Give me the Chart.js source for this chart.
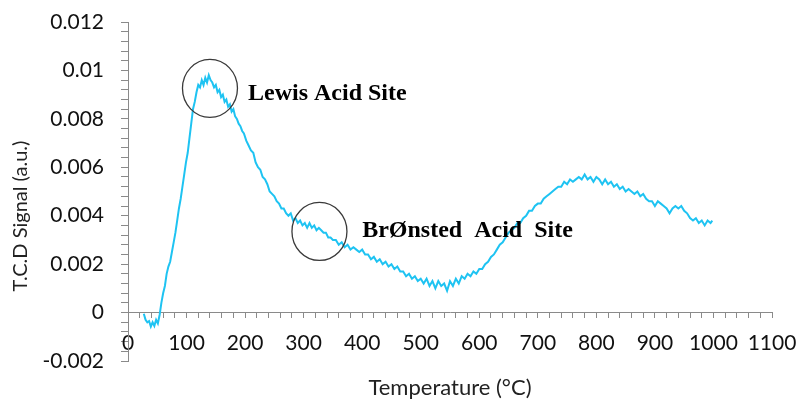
<!DOCTYPE html>
<html>
<head>
<meta charset="utf-8">
<script src="https://cdn.jsdelivr.net/npm/chart.js@4/dist/chart.umd.min.js"></script>
<style>
html,body{margin:0;padding:0;background:#fff;}
#wrap{width:799px;height:400px;position:relative;}
</style>
</head>
<body>
<div id="wrap"><canvas id="c" width="799" height="400"></canvas></div>
<script>
const temperatures = [27,30,33,36,39,42,45,48,51,54,57,60,63,66,69,72,75,78,81,84,87,90,93,96,99,102,105,108,111,114,117,120,123,126,129,132,135,138,141,144,147,150,153,156,159,162,165,168,171,174,177,180,183,186,189,192,195,198,202,206,210,214,218,222,226,230,234,238,242,246,250,254,258,262,266,270,274,278,282,286,290,294,298,302,306,310,314,318,322,326,330,334,338,342,346,350,355,360,365,370,375,380,385,390,395,400,405,410,415,420,425,430,435,440,445,450,455,460,465,470,475,480,485,490,495,500,505,510,515,520,525,530,535,540,545,550,555,560,565,570,575,580,585,590,595,600,605,610,615,620,625,630,635,640,645,650,655,660,665,670,675,680,685,690,695,700,705,710,715,720,725,730,735,740,745,750,755,760,765,770,775,780,785,790,795,800,805,810,815,820,825,830,835,840,845,850,855,860,865,870,875,880,885,890,895,900,905,910,915,920,925,930,935,940,945,950,955,960,965,970,975,980,985,990,995,998];
const tcdSignal = [-0.00005,-0.0003,-0.0004,-0.00035,-0.00058,-0.0004,-0.00055,-0.0003,-0.00045,-0.0001,0.0004,0.0008,0.0011,0.0016,0.0019,0.0021,0.0025,0.0029,0.0033,0.0038,0.0043,0.0047,0.0052,0.0057,0.0062,0.0066,0.0072,0.0078,0.0084,0.0087,0.0091,0.0094,0.0093,0.0096,0.0094,0.0097,0.0095,0.0098,0.0096,0.0095,0.0093,0.0094,0.0091,0.0092,0.0089,0.0090,0.0087,0.0088,0.0085,0.0086,0.0083,0.0084,0.0081,0.0080,0.0078,0.0077,0.0075,0.0074,0.0071,0.0069,0.0067,0.0066,0.0062,0.0060,0.0059,0.0056,0.0055,0.0053,0.0050,0.0049,0.0048,0.0046,0.0045,0.0043,0.0043,0.0041,0.0040,0.0041,0.0038,0.0039,0.0037,0.0038,0.0036,0.0037,0.0035,0.0037,0.0035,0.0036,0.0034,0.0035,0.0034,0.0033,0.0033,0.0031,0.0031,0.0030,0.0030,0.0028,0.0029,0.0027,0.0028,0.0026,0.0027,0.0026,0.0025,0.0026,0.0024,0.0024,0.0022,0.0023,0.0021,0.0022,0.0020,0.0021,0.0019,0.0020,0.0018,0.0019,0.0017,0.0017,0.0015,0.0016,0.0014,0.0015,0.0013,0.0014,0.0012,0.0014,0.0011,0.0013,0.0010,0.0013,0.0011,0.0012,0.0009,0.0013,0.0011,0.0014,0.0012,0.0015,0.0014,0.0016,0.0015,0.0017,0.0016,0.0018,0.0018,0.0020,0.0021,0.0023,0.0024,0.0026,0.0028,0.0029,0.0031,0.0033,0.0034,0.0035,0.0037,0.0037,0.0039,0.0040,0.0042,0.0042,0.0044,0.0045,0.0045,0.0047,0.0048,0.0049,0.0050,0.0051,0.0052,0.0052,0.0054,0.0053,0.0055,0.0054,0.0055,0.0056,0.0055,0.0057,0.0055,0.0056,0.0054,0.0056,0.0055,0.0053,0.0055,0.0053,0.0054,0.0052,0.0053,0.0051,0.0052,0.0050,0.0051,0.0050,0.0049,0.0050,0.0048,0.0049,0.0047,0.0046,0.0046,0.0044,0.0046,0.0045,0.0044,0.0043,0.0041,0.0043,0.0044,0.0043,0.0044,0.0042,0.0041,0.0039,0.0038,0.0039,0.0037,0.0038,0.0036,0.0038,0.0037,0.0038];
const xTickLabels = [0,100,200,300,400,500,600,700,800,900,1000,1100];
const yTickLabels = [-0.002,0,0.002,0.004,0.006,0.008,0.01,0.012];
const annotationLabels = ['Lewis Acid Site', 'BrØnsted  Acid  Site'];
const annotationAnchors = [[140, 0.00926, 205, 0.00905], [327, 0.00335, 400, 0.00339]];
const yTitle = 'T.C.D Signal (a.u.)';

const AX = '#8a8a8a';
const FONT = 'Lato, "Open Sans", sans-serif';

const annotPlugin = {
  id: 'annot',
  afterDatasetsDraw(chart) {
    const ctx = chart.ctx, xs = chart.scales.x, ys = chart.scales.y;
    ctx.save();
    annotationAnchors.forEach((a, i) => {
      const cx = xs.getPixelForValue(a[0]), cy = ys.getPixelForValue(a[1]);
      ctx.beginPath();
      ctx.ellipse(cx, cy, 27.5, 29, 0, 0, Math.PI * 2);
      ctx.strokeStyle = '#3a3a3a';
      ctx.lineWidth = 1.3;
      ctx.stroke();
      ctx.fillStyle = '#000';
      ctx.font = 'bold 24px "Liberation Serif", "Times New Roman", serif';
      ctx.textAlign = 'left';
      ctx.textBaseline = 'middle';
      ctx.fillText(annotationLabels[i], xs.getPixelForValue(a[2]), ys.getPixelForValue(a[3]));
    });
    // y axis title
    ctx.translate(21, chart.chartArea.top + 194);
    ctx.rotate(-Math.PI / 2);
    ctx.font = '20px ' + FONT;
    ctx.fillStyle = '#222';
    ctx.textAlign = 'center';
    ctx.textBaseline = 'middle';
    ctx.fillText(yTitle, 0, 0);
    ctx.restore();
  }
};

new Chart(document.getElementById('c'), {
  type: 'line',
  data: {
    datasets: [{
      data: temperatures.map((t, i) => ({x: t, y: tcdSignal[i]})),
      borderColor: '#1EC3F2',
      borderWidth: 2,
      pointRadius: 0,
      tension: 0,
      fill: false
    }]
  },
  options: {
    responsive: false,
    animation: false,
    events: [],
    layout: {padding: {top: 22, right: 27, bottom: 39, left: 0}},
    plugins: {legend: {display: false}, tooltip: {enabled: false}},
    scales: {
      x: {
        type: 'linear',
        position: {y: 0},
        min: 0, max: 1100,
        afterFit: (s) => { s.paddingLeft = 0; s.paddingRight = 0; },
        border: {display: true, color: AX, width: 1},
        grid: {drawOnChartArea: false, drawTicks: true, tickLength: 5, color: AX, tickColor: AX},
        ticks: {
          stepSize: 20, autoSkip: false, maxRotation: 0, minRotation: 0,
          padding: 13, color: '#111',
          font: {family: FONT, size: 21},
          callback: (v) => xTickLabels.includes(Math.round(v)) && Math.abs(v - Math.round(v)) < 1e-6 ? String(Math.round(v)) : ''
        },
        title: {display: true, text: 'Temperature (°C)', color: '#222', font: {family: FONT, size: 22}, padding: {top: 6}}
      },
      y: {
        type: 'linear',
        position: 'left',
        min: -0.002, max: 0.012,
        afterFit: (s) => { s.width = 128; s.paddingTop = 0; s.paddingBottom = 0; },
        border: {display: true, color: AX, width: 1},
        grid: {drawOnChartArea: false, drawTicks: true, tickLength: 7, color: AX, tickColor: AX},
        ticks: {
          stepSize: 0.0004, autoSkip: false, padding: 17, color: '#111',
          font: {family: FONT, size: 21},
          callback: (v) => {
            const m = yTickLabels.find(t => Math.abs(t - v) < 1e-9);
            return m === undefined ? '' : String(m);
          }
        },
        title: {display: false}
      }
    }
  },
  plugins: [annotPlugin]
});
</script>
</body>
</html>
